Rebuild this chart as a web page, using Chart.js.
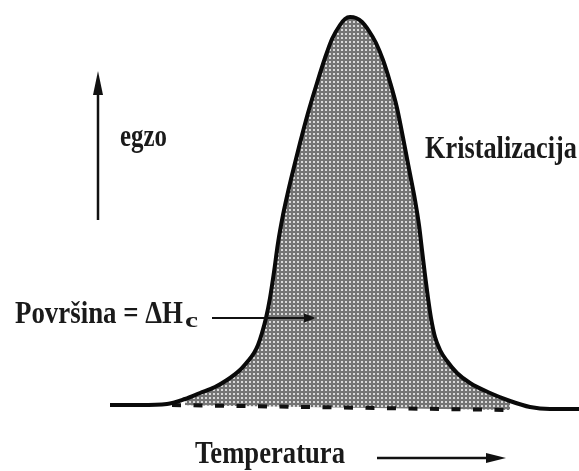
<!DOCTYPE html>
<html>
<head>
<meta charset="utf-8">
<script src="https://cdn.jsdelivr.net/npm/chart.js@4/dist/chart.umd.min.js"></script>
<style>
html,body{margin:0;padding:0;background:#fff;}
#wrap{width:579px;height:471px;position:relative;}
</style>
</head>
<body>
<div id="wrap"><canvas id="c"></canvas></div>
<script>
// Temperature (arbitrary units) and heat flow (arbitrary units, exo up)
const temperature = [110,140,167,185,200,215,227,240,248,254,258,262,266,270,274,278,283,288,294,300,308,317,325,332,340,345,350,356,362,369,376,383,390,397,405,410,415,419,422,425,428,431,435,440,447,457,470,490,510,530,550,579];
const heatFlow    = [0,0,1,6,12,18,25,35,44,52,60,72,87,107,133,162,190,213,238,262,292,322,347,366,380,386,388,387,383,374,362,345,323,297,257,231,205,180,155,130,107,87,68,55,44,32,22,12,4,-2,-4,-4];
// Interpolated baseline under the peak (dashed)
const baselineT = [172,510];
const baselineH = [0,-5];
// Integration limits of the shaded area
const areaFrom = 170, areaTo = 512;
// Labels
const labelExo = "egzo";
const labelPeak = "Kristalizacija";
const labelArea = "Površina = ΔH";
const labelAreaSub = "c";
const labelX = "Temperatura";

const curvePts = temperature.map((t,i)=>({x:t,y:heatFlow[i]}));
const areaPts = curvePts.filter(p=>p.x>=areaFrom && p.x<=areaTo);
const basePts = baselineT.map((t,i)=>({x:t,y:baselineH[i]}));

// dotted grey fill pattern
const pc = document.createElement('canvas');
pc.width = 4; pc.height = 4;
const pctx = pc.getContext('2d');
pctx.fillStyle = '#747474'; pctx.fillRect(0,0,4,4);
pctx.fillStyle = '#d8d8d8'; pctx.fillRect(1,1,2,2);
const pattern = pctx.createPattern(pc,'repeat');

const FONT = '"Liberation Serif", "Times New Roman", "DejaVu Serif", serif';

function arrow(ctx,x1,y1,x2,y2,lw,hl,hw){
  const a = Math.atan2(y2-y1,x2-x1);
  const bx = x2 - Math.cos(a)*hl, by = y2 - Math.sin(a)*hl;
  ctx.save();
  ctx.strokeStyle='#111'; ctx.fillStyle='#111'; ctx.lineWidth=lw;
  ctx.beginPath(); ctx.moveTo(x1,y1); ctx.lineTo(bx,by); ctx.stroke();
  ctx.beginPath(); ctx.moveTo(x2,y2);
  ctx.lineTo(bx - Math.sin(a)*hw, by + Math.cos(a)*hw);
  ctx.lineTo(bx + Math.sin(a)*hw, by - Math.cos(a)*hw);
  ctx.closePath(); ctx.fill();
  ctx.restore();
}
function fitText(ctx,txt,x,baseline,width,size){
  ctx.save();
  ctx.font = 'bold '+size+'px '+FONT;
  const w = ctx.measureText(txt).width;
  ctx.translate(x,baseline);
  ctx.scale(width/w,1);
  ctx.fillStyle='#1a1a1a';
  ctx.textBaseline='alphabetic';
  ctx.fillText(txt,0,0);
  ctx.restore();
}

const annot = {
  id:'annot',
  afterDraw(chart){
    const ctx = chart.ctx;
    fitText(ctx,labelExo,120,146,47,31);
    fitText(ctx,labelPeak,425,158,152,31);
    fitText(ctx,labelArea,15,323,168,31);
    fitText(ctx,labelAreaSub,185,327,13,22);
    fitText(ctx,labelX,195,463,150,31);
    arrow(ctx,98,220,98,71,2.5,24,5);
    arrow(ctx,212,318,316,318,2,12,4.5);
    arrow(ctx,377,458,506,458,2.5,20,5);
  }
};

new Chart(document.getElementById('c'),{
  type:'line',
  data:{datasets:[
    {data:curvePts,borderColor:'#0a0a0a',borderWidth:4,pointRadius:0,cubicInterpolationMode:'monotone',fill:false,order:0},
    {data:basePts,borderColor:'#111',borderWidth:4,borderDash:[9,12.5],pointRadius:0,fill:false,order:1},
    {data:areaPts,borderWidth:0,borderColor:'rgba(0,0,0,0)',pointRadius:0,cubicInterpolationMode:'monotone',backgroundColor:pattern,fill:{target:1},order:2}
  ]},
  options:{
    responsive:true,maintainAspectRatio:false,animation:false,
    layout:{padding:0},
    plugins:{legend:{display:false},title:{display:false},tooltip:{enabled:false}},
    scales:{
      x:{type:'linear',min:0,max:579,display:false},
      y:{type:'linear',min:-66,max:405,display:false}
    }
  },
  plugins:[annot]
});
</script>
</body>
</html>
